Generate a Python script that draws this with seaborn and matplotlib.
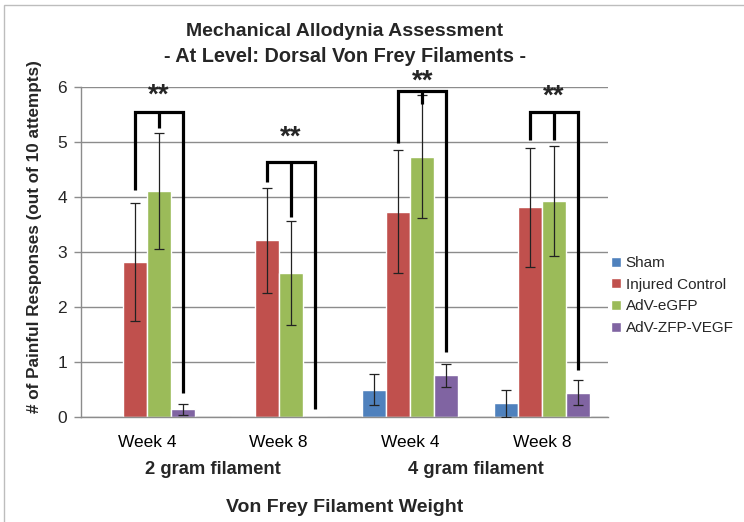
import numpy as np
import pandas as pd
import matplotlib
matplotlib.use("Agg")
import matplotlib.pyplot as plt
import matplotlib.patches as mpatches
import matplotlib.transforms as mtransforms
import seaborn as sns

# ---------------- data ----------------
conditions = ["2g Week 4", "2g Week 8", "4g Week 4", "4g Week 8"]
week_labels = ["Week 4", "Week 8", "Week 4", "Week 8"]
filament_labels = ["2 gram filament", "4 gram filament"]
series = ["Sham", "Injured Control", "AdV-eGFP", "AdV-ZFP-VEGF"]

sham = [0.0, 0.0, 0.50, 0.25]
injured = [2.82, 3.21, 3.73, 3.81]
egfp = [4.11, 2.62, 4.73, 3.92]
zfp = [0.14, 0.0, 0.76, 0.44]

sham_err = [np.nan, np.nan, 0.29, 0.25]
injured_err = [1.07, 0.95, 1.12, 1.08]
egfp_err = [1.05, 0.94, 1.12, 1.00]
zfp_err = [0.10, np.nan, 0.21, 0.23]

# significance brackets (y levels in data units)
bracket_top = [5.55, 4.64, 5.93, 5.55]
bracket_red_end = [4.13, 4.28, 4.98, 5.04]
bracket_green_end = [5.26, 3.64, 5.70, 5.04]
bracket_purple_end = [0.43, 0.15, 1.19, 0.85]
star_y = [5.84, 5.08, 6.10, 5.82]
star_text = "**"

colors = ["#4F81BD", "#C0504D", "#9BBB59", "#8064A2"]

values = [sham, injured, egfp, zfp]
errors = [sham_err, injured_err, egfp_err, zfp_err]

rows = []
for s, vals, errs in zip(series, values, errors):
    for c, v, e in zip(conditions, vals, errs):
        rows.append({"condition": c, "series": s, "value": v, "err": e})
df = pd.DataFrame(rows)

# ---------------- style ----------------
sns.set_style("white")
plt.rcParams["font.family"] = ["Liberation Sans", "DejaVu Sans"]
narrow = ["Liberation Sans Narrow", "Liberation Sans", "DejaVu Sans"]

fig = plt.figure(figsize=(7.44, 5.22), dpi=100)
ax = fig.add_axes([81 / 744, 1 - 417 / 522, (608 - 81) / 744, (417 - 87) / 522])

sns.barplot(data=df, x="condition", y="value", hue="series",
            order=conditions, hue_order=series, palette=colors,
            width=0.727, errorbar=None, saturation=1, ax=ax)

# error bars at bar centres
centers = {}
for s, cont, errs in zip(series, ax.containers, errors):
    xs = [p.get_x() + p.get_width() / 2 for p in cont.patches]
    hs = [p.get_height() for p in cont.patches]
    centers[s] = xs
    ax.errorbar(xs, hs, yerr=errs, fmt="none", ecolor="#222222",
                elinewidth=0.9, capsize=3.5, capthick=0.9, zorder=4)

# brackets
for i in range(len(conditions)):
    xr = centers["Injured Control"][i]
    xg = centers["AdV-eGFP"][i]
    xp = centers["AdV-ZFP-VEGF"][i]
    top = bracket_top[i]
    kw = dict(color="black", lw=2.3, solid_capstyle="butt", zorder=5, clip_on=False)
    ax.plot([xr, xr, xp, xp], [bracket_red_end[i], top, top, bracket_purple_end[i]],
            solid_joinstyle="miter", **kw)
    ax.plot([xg, xg], [top, bracket_green_end[i]], **kw)
    ax.text(xg, star_y[i], star_text, ha="center", va="center",
            fontsize=20, fontweight="bold", clip_on=False, zorder=6)

# axes cosmetics
ax.set_ylim(0, 6)
ax.set_xlim(-0.5, 3.5)
ax.set_yticks(range(0, 7))
ax.yaxis.grid(True, color="#8C8C8C", lw=1)
ax.set_axisbelow(True)
for side in ["top", "right"]:
    ax.spines[side].set_visible(False)
for side in ["left", "bottom"]:
    ax.spines[side].set_color("#8C8C8C")
    ax.spines[side].set_linewidth(1)

ax.set_xticks(range(4))
ax.set_xticklabels(week_labels)
ax.set_xticks([-0.5, 0.5, 1.5, 2.5, 3.5], minor=True)
ax.tick_params(axis="x", which="major", length=0, pad=13, labelsize=12.5, colors="black")
ax.tick_params(axis="x", which="minor", length=5, color="#8C8C8C", width=1, direction="out")
ax.tick_params(axis="y", which="major", length=5, color="#8C8C8C", width=1,
               direction="out", labelsize=12.5, pad=5, left=True)
ax.set_xlabel("")
ax.set_ylabel("# of Painful Responses (out of 10 attempts)", fontsize=12.3,
              fontweight="bold")
ax.yaxis.set_label_coords(-0.074, 0.548)

trans = mtransforms.blended_transform_factory(ax.transData, ax.transAxes)
ax.text(0.5, -0.160, filament_labels[0], transform=trans, ha="center", va="center",
        fontsize=13.2, fontweight="bold", family=narrow)
ax.text(2.5, -0.160, filament_labels[1], transform=trans, ha="center", va="center",
        fontsize=13.2, fontweight="bold", family=narrow)
ax.text(1.5, -0.273, "Von Frey Filament Weight", transform=trans, ha="center",
        va="center", fontsize=14, fontweight="bold", family=narrow)

# title
fig.text(345 / 744, 1 - 31 / 522, "Mechanical Allodynia Assessment", ha="center",
         va="center", fontsize=14, fontweight="bold", family=narrow)
fig.text(345 / 744, 1 - 56 / 522, "- At Level: Dorsal Von Frey Filaments -", ha="center",
         va="center", fontsize=14.3, fontweight="bold", family=narrow)

# legend
handles, labels = ax.get_legend_handles_labels()
if ax.get_legend() is not None:
    ax.get_legend().remove()
fig.legend(handles, labels, loc="upper left", bbox_to_anchor=(608 / 744, 1 - 253 / 522),
           frameon=False, fontsize=11, handlelength=0.65, handleheight=0.65,
           handletextpad=0.3, labelspacing=0.5, borderaxespad=0, borderpad=0.2)

# chart area border
fig.patches.append(mpatches.Rectangle((4 / 744, -0.1), 1.2, 1 - 5 / 522 + 0.1,
                                      transform=fig.transFigure, fill=False,
                                      edgecolor="#BDBDBD", lw=1))

fig.savefig("out.png", dpi=100)
